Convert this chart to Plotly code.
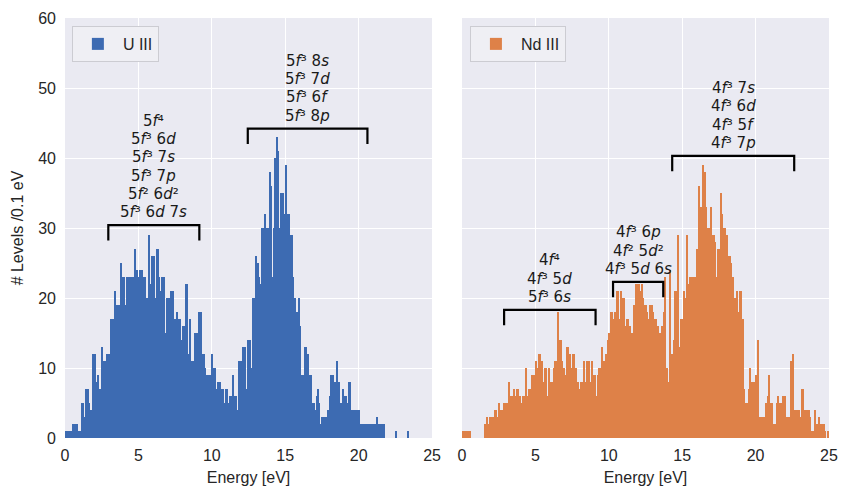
import plotly.graph_objects as go

bin_width = 0.1
energy_ticks = [0, 5, 10, 15, 20, 25]
level_ticks = [0, 10, 20, 30, 40, 50, 60]

# number of levels per 0.1 eV bin (U III), bins from 0 to 25 eV
u3_counts = [
    1, 1, 1, 1, 1, 2, 2, 2, 2, 1,
    1, 5, 5, 3, 7, 7, 5, 4, 4, 12,
    12, 8, 9, 7, 7, 13, 11, 11, 12, 12,
    12, 17, 17, 17, 21, 19, 19, 19, 25, 23,
    23, 19, 23, 23, 23, 23, 23, 27, 24, 24,
    23, 24, 24, 23, 23, 20, 20, 29, 22, 26,
    26, 20, 27, 27, 23, 21, 23, 23, 15, 20,
    20, 20, 21, 21, 17, 17, 18, 17, 17, 14,
    16, 16, 22, 22, 12, 17, 11, 11, 15, 15,
    15, 18, 18, 12, 12, 10, 9, 9, 9, 9,
    12, 10, 10, 7, 8, 8, 7, 7, 5, 7,
    7, 5, 6, 6, 9, 6, 6, 4, 11, 11,
    11, 13, 13, 7, 14, 13, 14, 10, 20, 20,
    26, 25, 23, 22, 30, 30, 32, 30, 30, 38,
    36, 23, 30, 40, 43, 41, 30, 35, 35, 32,
    39, 32, 32, 29, 29, 23, 20, 18, 18, 20,
    16, 9, 9, 13, 13, 12, 9, 9, 5, 5,
    4, 6, 7, 5, 2, 3, 3, 3, 3, 4,
    6, 9, 9, 8, 8, 11, 8, 5, 5, 7,
    6, 6, 5, 8, 8, 4, 4, 4, 4, 4,
    4, 2, 2, 2, 2, 2, 2, 2, 2, 2,
    2, 2, 3, 2, 2, 2, 2, 2, 0, 0,
    0, 0, 0, 0, 0, 1, 0, 0, 0, 0,
    0, 0, 0, 1, 0, 0, 0, 0, 0, 0,
    0, 0, 0, 0, 0, 0, 0, 0, 0, 0,
]

# number of levels per 0.1 eV bin (Nd III)
nd3_counts = [
    1, 1, 1, 1, 1, 1, 0, 0, 0, 0,
    0, 0, 0, 0, 0, 2, 2, 3, 2, 3,
    3, 3, 4, 4, 3, 5, 4, 4, 5, 5,
    5, 4, 8, 6, 6, 7, 6, 7, 7, 6,
    5, 6, 6, 10, 6, 7, 7, 9, 9, 9,
    11, 10, 12, 12, 11, 8, 10, 10, 6, 10,
    8, 8, 10, 11, 11, 18, 14, 14, 11, 10,
    9, 13, 13, 12, 10, 12, 12, 10, 8, 8,
    7, 8, 8, 11, 8, 11, 11, 8, 11, 9,
    9, 6, 9, 10, 10, 13, 11, 11, 12, 14,
    15, 18, 18, 17, 18, 21, 21, 17, 21, 20,
    20, 16, 17, 17, 16, 15, 15, 19, 22, 22,
    22, 21, 22, 20, 19, 19, 18, 17, 19, 19,
    18, 17, 17, 16, 15, 15, 16, 18, 23, 10,
    8, 24, 12, 12, 14, 21, 21, 29, 13, 17,
    17, 21, 20, 29, 22, 23, 23, 21, 23, 23,
    27, 36, 33, 33, 39, 38, 33, 30, 30, 33,
    29, 29, 28, 23, 27, 27, 35, 32, 30, 30,
    29, 26, 26, 25, 23, 20, 20, 21, 18, 21,
    21, 17, 7, 5, 5, 7, 10, 8, 8, 8,
    9, 14, 3, 3, 3, 3, 3, 5, 6, 9,
    5, 5, 2, 2, 5, 6, 5, 5, 6, 6,
    6, 3, 3, 3, 11, 12, 4, 4, 4, 4,
    3, 7, 7, 4, 4, 4, 4, 3, 1, 1,
    4, 2, 2, 3, 2, 2, 2, 1, 0, 1,
]

u3_centers = [round(bin_width * (i + 0.5), 3) for i in range(len(u3_counts))]
nd3_centers = [round(bin_width * (i + 0.5), 3) for i in range(len(nd3_counts))]

# configuration brackets (lines listed top to bottom)
u3_bracket_lo = [2.95, 12.45]
u3_bracket_hi = [9.15, 20.6]
u3_bracket_y = [30.4, 44.2]
u3_labels = [
    ["5<i>f</i>⁴", "5<i>f</i>³ 6<i>d</i>", "5<i>f</i>³ 7<i>s</i>",
     "5<i>f</i>³ 7<i>p</i>", "5<i>f</i>² 6<i>d</i>²", "5<i>f</i>³ 6<i>d</i> 7<i>s</i>"],
    ["5<i>f</i>³ 8<i>s</i>", "5<i>f</i>³ 7<i>d</i>", "5<i>f</i>³ 6<i>f</i>", "5<i>f</i>³ 8<i>p</i>"],
]
nd3_bracket_lo = [2.87, 10.29, 14.32]
nd3_bracket_hi = [9.1, 13.71, 22.63]
nd3_bracket_y = [18.3, 22.3, 40.3]
nd3_labels = [
    ["4<i>f</i>⁴", "4<i>f</i>³ 5<i>d</i>", "5<i>f</i>³ 6<i>s</i>"],
    ["4<i>f</i>³ 6<i>p</i>", "4<i>f</i>² 5<i>d</i>²", "4<i>f</i>³ 5<i>d</i> 6<i>s</i>"],
    ["4<i>f</i>³ 7<i>s</i>", "4<i>f</i>³ 6<i>d</i>", "4<i>f</i>³ 5<i>f</i>", "4<i>f</i>³ 7<i>p</i>"],
]
bracket_drop = 2.2
line_gap_px = 18.3
first_line_px = 13

BLUE = "#3D6BB2"
ORANGE = "#DE8148"
BG = "#EAEAF2"
TXT = "#262626"

fig = go.Figure()
fig.add_trace(go.Bar(x=u3_centers, y=u3_counts, width=bin_width, name="U III",
                     marker=dict(color=BLUE, line=dict(width=0)), xaxis="x", yaxis="y",
                     legend="legend", showlegend=True))
fig.add_trace(go.Bar(x=nd3_centers, y=nd3_counts, width=bin_width, name="Nd III",
                     marker=dict(color=ORANGE, line=dict(width=0)), xaxis="x2", yaxis="y2",
                     legend="legend2", showlegend=True))

shapes = []
annotations = []
def add_brackets(los, his, ys, labels, xr, yr):
    for lo, hi, y, lines in zip(los, his, ys, labels):
        mid = (lo + hi) / 2
        shapes.append(dict(type="path", xref=xr, yref=yr,
                           path=f"M {lo},{y - bracket_drop} L {lo},{y} L {hi},{y} L {hi},{y - bracket_drop}",
                           line=dict(color="black", width=2.2)))
        n = len(lines)
        for k, lab in enumerate(lines):
            level = n - 1 - k
            annotations.append(dict(x=mid, y=y, xref=xr, yref=yr, text=lab,
                                    showarrow=False, yanchor="middle", xanchor="center",
                                    yshift=first_line_px + line_gap_px * level, borderpad=0,
                                    font=dict(family="DejaVu Sans", size=15, color="#1a1a1a")))

add_brackets(u3_bracket_lo, u3_bracket_hi, u3_bracket_y, u3_labels, "x", "y")
add_brackets(nd3_bracket_lo, nd3_bracket_hi, nd3_bracket_y, nd3_labels, "x2", "y2")

axis_common = dict(range=[0, 25], tickvals=energy_ticks, showgrid=True, gridcolor="white",
                   gridwidth=1.3, zeroline=False, showline=False, ticks="", automargin=False,
                   tickfont=dict(size=16, color=TXT), ticklabelstandoff=6,
                   title=dict(text="Energy [eV]", font=dict(size=16, color=TXT), standoff=8))
yaxis_common = dict(range=[0, 60], tickvals=level_ticks, showgrid=True, gridcolor="white",
                    gridwidth=1.3, zeroline=False, showline=False, ticks="", automargin=False)

legend_common = dict(bgcolor="#EFEFF4", bordercolor="#CCCCD2", borderwidth=1,
                     font=dict(size=16, color=TXT), xanchor="left", yanchor="top",
                     itemwidth=40, tracegroupgap=0)

fig.update_layout(
    width=852, height=491,
    margin=dict(l=65, r=23, t=18, b=53),
    paper_bgcolor="white", plot_bgcolor=BG,
    font=dict(family="Liberation Sans, Arial, sans-serif", color=TXT),
    barmode="overlay", bargap=0, showlegend=True,
    xaxis=dict(domain=[0, 0.4804], anchor="y", **axis_common),
    xaxis2=dict(domain=[0.5196, 1], anchor="y2", **axis_common),
    yaxis=dict(anchor="x", tickfont=dict(size=16, color=TXT), ticklabelstandoff=8,
               title=dict(text="# Levels /0.1 eV", font=dict(size=16, color=TXT), standoff=10),
               **yaxis_common),
    yaxis2=dict(anchor="x2", matches="y", showticklabels=False, **yaxis_common),
    legend=dict(x=0.009, y=0.981, **legend_common),
    legend2=dict(x=0.53, y=0.981, **legend_common),
    shapes=shapes,
    annotations=annotations,
)

fig.write_html("out.html")
